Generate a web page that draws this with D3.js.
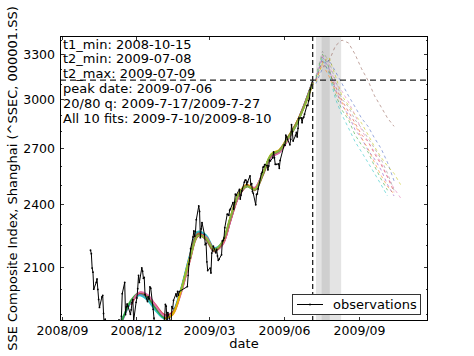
<!DOCTYPE html>
<html><head><meta charset="utf-8">
<script src="https://cdn.jsdelivr.net/npm/d3@7"></script>
<style>
html,body{margin:0;padding:0;background:#fff;}
text{font-family:"DejaVu Sans",sans-serif;fill:#000;}
</style></head>
<body><svg id="c" width="474" height="356"></svg>
<script>
// ---------- DATA ----------
const obsDates = [
"2008-10-06","2008-10-07","2008-10-08","2008-10-09","2008-10-10","2008-10-13","2008-10-14","2008-10-15","2008-10-16","2008-10-17","2008-10-20","2008-10-21","2008-10-22","2008-10-23","2008-10-24","2008-10-27","2008-10-28","2008-10-29","2008-10-30","2008-10-31",
"2008-11-03","2008-11-04","2008-11-05","2008-11-06","2008-11-07","2008-11-10","2008-11-11","2008-11-12","2008-11-13","2008-11-14","2008-11-17","2008-11-18","2008-11-19","2008-11-20","2008-11-21","2008-11-24","2008-11-25","2008-11-26","2008-11-27","2008-11-28",
"2008-12-01","2008-12-02","2008-12-03","2008-12-04","2008-12-05","2008-12-08","2008-12-09","2008-12-10","2008-12-11","2008-12-12","2008-12-15","2008-12-16","2008-12-17","2008-12-18","2008-12-19","2008-12-22","2008-12-23","2008-12-24","2008-12-25","2008-12-26","2008-12-29","2008-12-30","2008-12-31",
"2009-01-05","2009-01-06","2009-01-07","2009-01-08","2009-01-09","2009-01-12","2009-01-13","2009-01-14","2009-01-15","2009-01-16","2009-01-19","2009-01-20","2009-01-21","2009-01-22","2009-01-23",
"2009-02-02","2009-02-03","2009-02-04","2009-02-05","2009-02-06","2009-02-09","2009-02-10","2009-02-11","2009-02-12","2009-02-13","2009-02-16","2009-02-17","2009-02-18","2009-02-19","2009-02-20","2009-02-23","2009-02-24","2009-02-25","2009-02-26","2009-02-27",
"2009-03-02","2009-03-03","2009-03-04","2009-03-05","2009-03-06","2009-03-09","2009-03-10","2009-03-11","2009-03-12","2009-03-13","2009-03-16","2009-03-17","2009-03-18","2009-03-19","2009-03-20","2009-03-23","2009-03-24","2009-03-25","2009-03-26","2009-03-27","2009-03-30","2009-03-31",
"2009-04-01","2009-04-02","2009-04-03","2009-04-07","2009-04-08","2009-04-09","2009-04-10","2009-04-13","2009-04-14","2009-04-15","2009-04-16","2009-04-17","2009-04-20","2009-04-21","2009-04-22","2009-04-23","2009-04-24","2009-04-27","2009-04-28","2009-04-29","2009-04-30",
"2009-05-04","2009-05-05","2009-05-06","2009-05-07","2009-05-08","2009-05-11","2009-05-12","2009-05-13","2009-05-14","2009-05-15","2009-05-18","2009-05-19","2009-05-20","2009-05-21","2009-05-22","2009-05-25","2009-05-26","2009-05-27",
"2009-06-01","2009-06-02","2009-06-03","2009-06-04","2009-06-05","2009-06-08","2009-06-09","2009-06-10","2009-06-11","2009-06-12","2009-06-15","2009-06-16","2009-06-17","2009-06-18","2009-06-19","2009-06-22","2009-06-23","2009-06-24","2009-06-25","2009-06-26","2009-06-29","2009-06-30",
"2009-07-01","2009-07-02","2009-07-03","2009-07-06"];
const obsValues = [
2174,2158,2093,2075,2001,2030,2045,2000,1958,1925,1968,1975,1900,1838,1877,1771,1664,1706,1763,1728,
1719,1706,1750,1694,1747,1874,1827,1838,1889,1982,2030,1896,1927,1939,1930,1897,1915,1944,1957,1871,
1946,1964,2003,2061,2030,2094,2079,2048,2052,1979,1949,1968,1960,2011,2005,1917,1881,1837,1849,1856,1862,1863,1821,
1880,1937,1930,1866,1904,1869,1854,1928,1920,1954,1981,1970,1992,1976,1991,
2012,2061,2111,2138,2181,2236,2265,2240,2262,2320,2389,2361,2233,2275,2306,2248,2200,2207,2121,2082,
2093,2071,2161,2172,2193,2162,2178,2148,2128,2133,2153,2218,2219,2231,2281,2347,2346,2342,2367,2374,2406,2373,
2408,2449,2444,2475,2424,2445,2467,2513,2524,2524,2501,2514,2547,2499,2505,2463,2454,2395,2448,2451,2477,
2559,2567,2595,2597,2609,2603,2579,2601,2633,2629,2647,2680,2647,2610,2610,2612,2588,2632,
2721,2718,2777,2767,2753,2721,2753,2840,2798,2743,2776,2793,2767,2818,2880,2881,2852,2880,2886,2904,2959,2959,
2989,3001,3060,3120];

const fitDates = ["2008-11-05","2008-11-15","2008-11-25","2008-12-05","2008-12-15","2008-12-25","2009-01-05","2009-01-15","2009-01-25","2009-02-05","2009-02-15","2009-02-25","2009-03-07","2009-03-17","2009-03-27","2009-04-06","2009-04-16","2009-04-26","2009-05-06","2009-05-16","2009-05-26","2009-06-05","2009-06-15","2009-06-25","2009-07-06"];
const fit1  = [1795,1878,1948,1980,1964,1922,1886,1902,1996,2146,2256,2234,2176,2200,2316,2438,2492,2480,2562,2652,2678,2748,2834,2950,3108];
const fit2  = [null,null,null,null,null,null,1868,1900,1994,2140,2255,2238,2180,2204,2320,2440,2494,2480,2564,2656,2680,2752,2836,2952,3112];
const fit3  = [1800,1885,1948,1975,1955,1912,1880,1905,2000,2150,2262,2245,2185,2210,2325,2445,2495,2480,2565,2660,2686,2755,2838,2955,3115];
const fit4  = [1795,1882,1955,1985,1968,1922,1884,1900,1988,2130,2244,2230,2178,2208,2326,2442,2490,2474,2560,2662,2684,2750,2830,2948,3108];
const fit5  = [null,null,1935,1985,1975,1935,1895,1905,1985,2125,2240,2235,2180,2200,2315,2436,2492,2482,2565,2655,2678,2748,2834,2952,3112];
const fit6  = [null,null,1940,1988,1978,1932,1890,1898,1982,2128,2246,2236,2174,2198,2318,2438,2496,2484,2566,2650,2676,2746,2836,2954,3110];
const fit7  = [null,null,null,null,null,null,1880,1895,1992,2140,2252,2228,2170,2206,2330,2450,2500,2476,2558,2664,2690,2758,2840,2946,3100];
const fit8  = [null,null,null,null,null,null,1878,1898,1995,2138,2246,2226,2172,2212,2334,2452,2498,2472,2556,2668,2692,2762,2842,2944,3098];
const fit9  = [null,null,null,null,null,null,null,null,null,2145,2250,2222,2168,2210,2328,2448,2494,2470,2552,2660,2688,2760,2838,2950,3104];
const fit10 = [null,null,null,null,null,null,null,null,1990,2134,2242,2230,2178,2214,2332,2446,2490,2474,2562,2664,2686,2754,2832,2946,3106];
const fitColors = ["#7f3fbf","#3f5fbf","#17bfbf","#2ca02c","#d62728","#e070b0","#ff7f0e","#d4c000","#8c564b","#7fbf3f"];

const projDates = ["2009-07-10","2009-07-18","2009-07-26","2009-08-03","2009-08-11","2009-08-19","2009-08-27","2009-09-04","2009-09-12","2009-09-20","2009-09-28","2009-10-06","2009-10-14","2009-10-22"];
const proj1  = [3150,3320,3250,3120,3000,2950,2870,2820,2760,2700,2640,2560,2470,null];
const proj2  = [3120,3280,3200,3060,2960,2900,2810,2760,2690,2640,2580,2500,2440,null];
const proj3  = [3130,3250,3180,3080,2990,2920,2850,2780,2740,2670,2610,2540,2460,null];
const proj4  = [3140,3300,3210,3030,2930,2870,2780,2720,2680,2600,2530,2470,null,null];
const proj5  = [3120,3230,3150,3050,2980,2880,2840,2760,2700,2620,2550,2490,2450,null];
const proj6  = [3100,3200,3260,3180,3100,3020,2950,2880,2830,2760,2700,2620,2520,null];
const proj7  = [null,null,3250,3360,3400,3380,3300,3200,3120,3020,2950,2880,2830,null];
const proj8  = [3110,3240,3280,3150,3020,2960,2900,2850,2780,2710,2650,2600,2560,2500];
const proj9  = [3130,3270,3170,3000,2900,2820,2740,2680,2620,2560,2500,2440,null,null];
const proj10 = [3120,3290,3230,3100,3050,2980,2900,2810,2740,2680,2620,2540,2480,2430];
const projColors = ["#888888","#7f3fbf","#d62728","#2ca02c","#ff7f0e","#3f5fbf","#8c564b","#bfbf00","#17bfbf","#e070b0"];

const peakDate = "2009-07-06";
const peakValue = 3123;
const q20 = "2009-07-17", q80 = "2009-07-27";
const fitsFrom = "2009-07-10", fitsTo = "2009-08-10";
const infoLines = ["t1_min: 2008-10-15","t2_min: 2009-07-08","t2_max: 2009-07-09","peak date: 2009-07-06","20/80 q: 2009-7-17/2009-7-27","All 10 fits: 2009-7-10/2009-8-10"];
const xTickDates = ["2008-09-01","2008-12-01","2009-03-01","2009-06-01","2009-09-01"];
const xTickLabels = ["2008/09","2008/12","2009/03","2009/06","2009/09"];
const yTickValues = [2100,2400,2700,3000,3300];
const yMinorValues = [1900,2000,2200,2300,2500,2600,2800,2900,3100,3200,3400];

// ---------- DRAW ----------
const parse = d3.timeParse("%Y-%m-%d");
const L=60,R=428,T=36,B=321;
const svg = d3.select("#c");
const x = d3.scaleTime().domain([new Date(2008,7,29,12), new Date(2009,10,24,17)]).range([L,R]);
const y = d3.scaleLog().domain([1870,3430]).range([B,T]);

svg.append("defs").append("clipPath").attr("id","clip")
  .append("rect").attr("x",L).attr("y",T).attr("width",R-L).attr("height",B-T);
const g = svg.append("g").attr("clip-path","url(#clip)");

// bands
g.append("rect").attr("x",x(parse(fitsFrom))).attr("y",T)
  .attr("width",x(parse(fitsTo))-x(parse(fitsFrom))).attr("height",B-T).attr("fill","#e4e4e4");
g.append("rect").attr("x",x(parse(q20))).attr("y",T)
  .attr("width",x(parse(q80))-x(parse(q20))).attr("height",B-T).attr("fill","#cfcfcf");

// fits
const fits=[fit1,fit2,fit3,fit4,fit5,fit6,fit7,fit8,fit9,fit10];
const fitLine = d3.line().defined(d=>d[1]!=null).x(d=>x(d[0])).y(d=>y(d[1])).curve(d3.curveCatmullRom.alpha(0.5));
fits.forEach((f,i)=>{
  const pts = fitDates.map((d,j)=>[parse(d),f[j]]).filter(p=>p[1]!=null);
  g.append("path").attr("d",fitLine(pts)).attr("fill","none")
    .attr("stroke",fitColors[i]).attr("stroke-width",1.8).attr("opacity",0.9);
});

// projections
const projs=[proj1,proj2,proj3,proj4,proj5,proj6,proj7,proj8,proj9,proj10];
const projLine = d3.line().x(d=>x(d[0])).y(d=>y(d[1]));
projs.forEach((p,i)=>{
  const pts = projDates.map((d,j)=>[parse(d),p[j]]).filter(q=>q[1]!=null);
  g.append("path").attr("d",projLine(pts)).attr("fill","none")
    .attr("stroke",projColors[i]).attr("stroke-width",0.9).attr("stroke-dasharray","3,3").attr("opacity",0.6);
});

// observations
const obs = obsDates.map((d,i)=>[parse(d),obsValues[i]]);
g.append("path").attr("d",d3.line().x(d=>x(d[0])).y(d=>y(d[1]))(obs))
  .attr("fill","none").attr("stroke","#000").attr("stroke-width",1);
g.selectAll("circle.o").data(obs).enter().append("circle").attr("class","o")
  .attr("cx",d=>x(d[0])).attr("cy",d=>y(d[1])).attr("r",0.9).attr("fill","#000");

// peak dashed lines
svg.append("line").attr("x1",x(parse(peakDate))).attr("x2",x(parse(peakDate))).attr("y1",T).attr("y2",B)
  .attr("stroke","#222").attr("stroke-width",1.3).attr("stroke-dasharray","5,3");
svg.append("line").attr("x1",L).attr("x2",R).attr("y1",y(peakValue)).attr("y2",y(peakValue))
  .attr("stroke","#222").attr("stroke-width",1.3).attr("stroke-dasharray","6,4");

// axes (inward ticks on all sides)
const ax = svg.append("g");
function tickLine(x1,y1,x2,y2){ax.append("line").attr("x1",x1).attr("y1",y1).attr("x2",x2).attr("y2",y2).attr("stroke","#000").attr("stroke-width",0.8);}
yTickValues.forEach(v=>{const yy=Math.round(y(v))+0.5; tickLine(L,yy,L+4,yy); tickLine(R,yy,R-4,yy);
  ax.append("text").attr("x",55).attr("y",yy).attr("dy","0.36em").attr("text-anchor","end").attr("font-size","12.5px").text(v);});
yMinorValues.forEach(v=>{const yy=Math.round(y(v))+0.5; if(yy<T||yy>B) return; tickLine(L,yy,L+2,yy); tickLine(R,yy,R-2,yy);});
xTickDates.forEach((d,i)=>{const xx=Math.round(x(parse(d)))+0.5; tickLine(xx,B,xx,B-4); tickLine(xx,T,xx,T+4);
  ax.append("text").attr("x",xx).attr("y",335).attr("text-anchor","middle").attr("font-size","12.5px").text(xTickLabels[i]);});
svg.append("rect").attr("x",L+0.5).attr("y",T+0.5).attr("width",R-L-1).attr("height",B-T-1)
  .attr("fill","none").attr("stroke","#000").attr("stroke-width",1);

// axis labels
svg.append("text").attr("x",(L+R)/2).attr("y",348).attr("text-anchor","middle").attr("font-size","13px").text("date");
svg.append("text").attr("transform",`translate(17,${(T+B)/2}) rotate(-90)`).attr("text-anchor","middle")
  .attr("font-size","13px").text("SSE Composite Index, Shanghai (^SSEC, 000001.SS)");

// info text
infoLines.forEach((s,i)=>{
  svg.append("text").attr("x",63).attr("y",48.5+i*14.8).attr("font-size","13px").text(s);
});

// legend
const lg = svg.append("g");
lg.append("rect").attr("x",292.5).attr("y",294.5).attr("width",128).attr("height",20)
  .attr("fill","#fff").attr("stroke","#333").attr("stroke-width",1);
lg.append("line").attr("x1",297).attr("x2",323).attr("y1",304.5).attr("y2",304.5).attr("stroke","#000").attr("stroke-width",1);
lg.append("circle").attr("cx",310).attr("cy",304.5).attr("r",0.9).attr("fill","#000");
lg.append("text").attr("x",333).attr("y",309).attr("font-size","13px").text("observations");
</script></body></html>
